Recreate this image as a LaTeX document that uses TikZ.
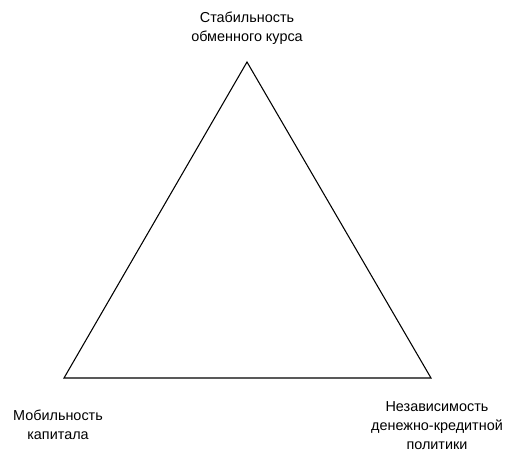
\documentclass[tikz,border=0pt]{standalone}
\usepackage{fontspec}
\setmainfont{Liberation Sans}

\begin{document}
\begin{tikzpicture}[x=0.75pt,y=-0.75pt,
    corner/.style={align=center,font=\fontsize{10.8}{14.3}\selectfont}]
    \useasboundingbox (0,0) rectangle (511,451);
    \coordinate (stab) at (247,62);
    \coordinate (mob) at (64,378);
    \coordinate (indep) at (431,378);
    \draw[line width=0.8pt] (stab) -- (mob) -- (indep) -- cycle;
    \node[corner] (stablabel) at (247,28) {Стабильность\\обменного курса};
    \node[corner] (moblabel) at (58,425) {Мобильность\\капитала};
    \node[corner] (indeplabel) at (437,425.5) {Независимость\\денежно-кредитной\\политики};
  \end{tikzpicture}
\end{document}
